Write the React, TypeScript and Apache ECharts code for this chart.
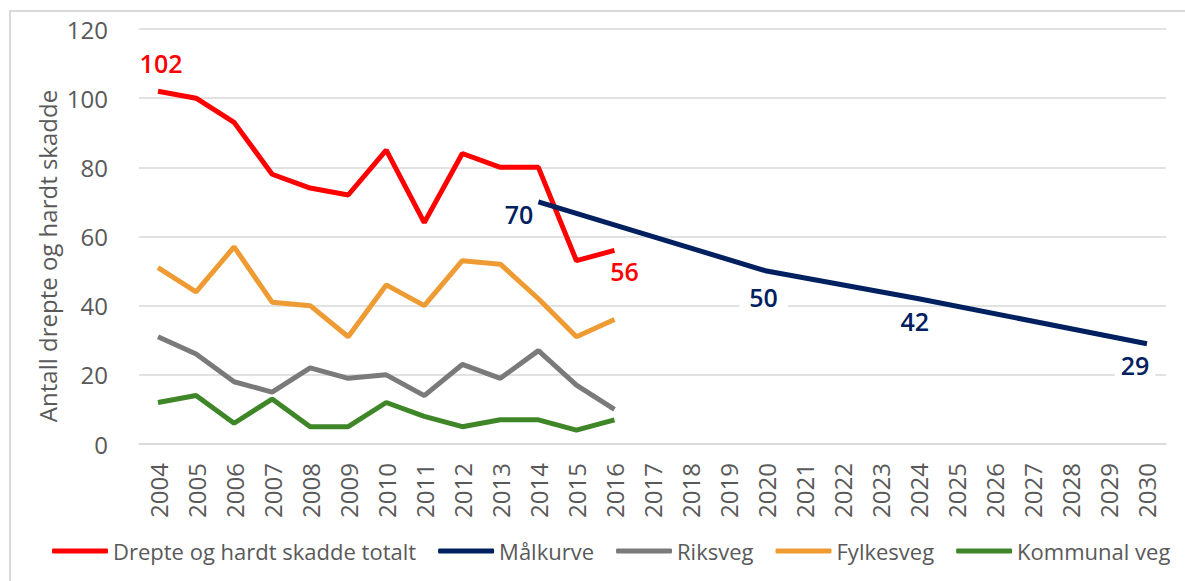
import React, { useEffect, useRef } from "react";
import * as echarts from "echarts";

const years = ["2004","2005","2006","2007","2008","2009","2010","2011","2012","2013","2014","2015","2016","2017","2018","2019","2020","2021","2022","2023","2024","2025","2026","2027","2028","2029","2030"];
const totalt = [102, 100, 93, 78, 74, 72, 85, 64, 84, 80, 80, 53, 56];
const malkurve: (number | null)[] = [null, null, null, null, null, null, null, null, null, null, 70, null, null, null, null, null, 50, null, null, null, 42, null, null, null, null, null, 29];
const riksveg = [31, 26, 18, 15, 22, 19, 20, 14, 23, 19, 27, 17, 10];
const fylkesveg = [51, 44, 57, 41, 40, 31, 46, 40, 53, 52, 42, 31, 36];
const kommunal = [12, 14, 6, 13, 5, 5, 12, 8, 5, 7, 7, 4, 7];
const yTicks = [0, 20, 40, 60, 80, 100, 120];

const RED = "#FF0000";
const NAVY = "#002060";
const GRAY = "#7A7A7A";
const ORANGE = "#EE9B33";
const GREEN = "#3F8628";

const FONT = "'Open Sans', 'Noto Sans', sans-serif";

export default function App() {
  const ref = useRef<HTMLDivElement>(null);
  useEffect(() => {
    if (!ref.current) return;
    const chart = echarts.init(ref.current, null, { renderer: "svg" });

    const redLabels: Record<number, any> = {
      0: { show: true, position: "top", offset: [3, -11] },
      12: { show: true, position: "bottom", offset: [10, 3] },
    };
    const navyLabels: Record<number, any> = {
      10: { show: true, position: "left", offset: [0, 12] },
      16: { show: true, position: "bottom", offset: [-3, 8], backgroundColor: "#fff", padding: [0, 10] },
      20: { show: true, position: "bottom", offset: [-4, 5] },
      26: { show: true, position: "bottom", offset: [-12, 4], backgroundColor: "#fff", padding: [0, 6] },
    };

    const labelStyle = { fontFamily: FONT, fontSize: 25, fontWeight: 600 };

    const option: any = {
      animation: false,
      textStyle: { fontFamily: FONT },
      graphic: [
        {
          type: "rect",
          shape: { x: 10, y: 11, width: 1300, height: 700 },
          style: { fill: "none", stroke: "#D9D9D9", lineWidth: 2 },
          silent: true,
          z: -10,
        },
        {
          type: "text",
          x: 47,
          y: 256,
          rotation: Math.PI / 2,
          style: {
            text: "Antall drepte og hardt skadde",
            fill: "#595959",
            fontFamily: FONT,
            fontSize: 24,
            align: "center",
            verticalAlign: "middle",
          },
        },
      ],
      grid: { left: 139, right: 19, top: 29, bottom: 137, containLabel: false },
      legend: {
        bottom: 14,
        left: 47,
        itemWidth: 56,
        itemHeight: 5,
        itemGap: 22,
        icon: "roundRect",
        textStyle: { fontFamily: FONT, fontSize: 22, color: "#595959" },
        data: ["Drepte og hardt skadde totalt", "Målkurve", "Riksveg", "Fylkesveg", "Kommunal veg"],
      },
      xAxis: {
        type: "category",
        data: years,
        boundaryGap: true,
        axisLine: { show: true, lineStyle: { color: "#D9D9D9", width: 1.5 } },
        axisTick: { show: false },
        axisLabel: { rotate: 90, margin: 19, fontSize: 24, color: "#595959", fontFamily: FONT },
      },
      yAxis: {
        type: "value",
        min: yTicks[0],
        max: yTicks[yTicks.length - 1],
        interval: 20,
        axisLine: { show: false },
        axisTick: { show: false },
        axisLabel: { margin: 31, fontSize: 24, color: "#595959", fontFamily: FONT },
        splitLine: { lineStyle: { color: "#D9D9D9", width: 1.5 } },
      },
      series: [
        {
          name: "Drepte og hardt skadde totalt",
          type: "line",
          data: totalt.map((v, i) => (redLabels[i] ? { value: v, label: redLabels[i] } : v)),
          symbol: "circle",
          symbolSize: 0.1,
          showSymbol: true,
          lineStyle: { color: RED, width: 5 },
          itemStyle: { color: RED },
          label: { show: false, color: RED, ...labelStyle },
          z: 5,
        },
        {
          name: "Målkurve",
          type: "line",
          data: malkurve.map((v, i) => (v !== null && navyLabels[i] ? { value: v, label: navyLabels[i] } : v)),
          connectNulls: true,
          symbol: "circle",
          symbolSize: 0.1,
          showSymbol: true,
          lineStyle: { color: NAVY, width: 5 },
          itemStyle: { color: NAVY },
          label: { show: false, color: NAVY, ...labelStyle },
          z: 6,
        },
        {
          name: "Riksveg",
          type: "line",
          data: riksveg,
          symbol: "none",
          lineStyle: { color: GRAY, width: 5 },
          itemStyle: { color: GRAY },
        },
        {
          name: "Fylkesveg",
          type: "line",
          data: fylkesveg,
          symbol: "none",
          lineStyle: { color: ORANGE, width: 5 },
          itemStyle: { color: ORANGE },
        },
        {
          name: "Kommunal veg",
          type: "line",
          data: kommunal,
          symbol: "none",
          lineStyle: { color: GREEN, width: 5 },
          itemStyle: { color: GREEN },
        },
      ],
    };
    chart.setOption(option);
    return () => chart.dispose();
  }, []);

  return (
    <div
      ref={ref}
      style={{ position: "absolute", left: 0, top: 0, width: 1185, height: 581, background: "#fff" }}
    />
  );
}
